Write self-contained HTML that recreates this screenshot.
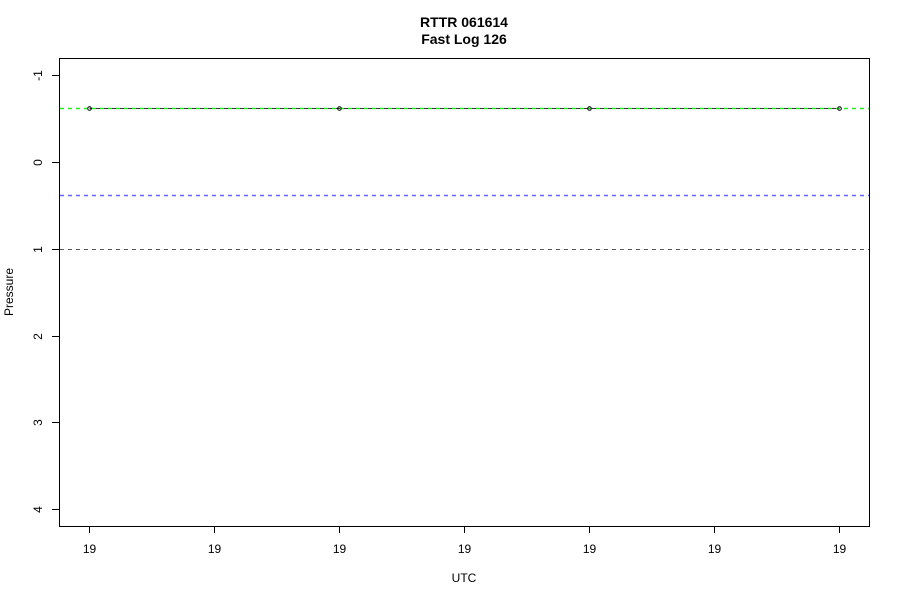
<!DOCTYPE html>
<html><head><meta charset="utf-8"><style>
body{margin:0;background:#fff;}
svg text{font-family:"Liberation Sans",Arial,sans-serif;}
</style></head><body>
<svg id="chart" width="900" height="600" xmlns="http://www.w3.org/2000/svg">
<rect width="900" height="600" fill="#fff"/>
<text x="464" y="27" text-anchor="middle" font-size="14" font-weight="bold">RTTR 061614</text>
<text x="464" y="44" text-anchor="middle" font-size="14" font-weight="bold">Fast Log 126</text>
<text x="464" y="582" text-anchor="middle" font-size="12">UTC</text>
<text transform="translate(13,292) rotate(-90)" text-anchor="middle" font-size="12">Pressure</text>
<g id="plot"></g>
<rect x="59.5" y="58.5" width="810" height="468" fill="none" stroke="#000" stroke-width="1"/>
</svg>
<script>
const xIndex=[0,2,4,6];
const yValues=[-0.62,-0.62,-0.62,-0.62];
const xTickLabels=["19","19","19","19","19","19","19"];
const yTicks=[-1,0,1,2,3,4];
const refGreen=-0.62;
const refBlue=0.38;
const refGray=1.0;
const NS="http://www.w3.org/2000/svg";
const g=document.getElementById('plot');
function xs(i){return Math.round(89+i*125)+0.5;}
function ys(v){return Math.round(162+v*86.8)+0.5;}
function mk(t,a){const e=document.createElementNS(NS,t);for(const k in a)e.setAttribute(k,a[k]);g.appendChild(e);return e;}
xTickLabels.forEach((l,i)=>{
 const t=mk('line',{x1:xs(i),x2:xs(i),y1:526,y2:533,stroke:'#000'});
 
 
 const tx=mk('text',{x:xs(i),y:553,'text-anchor':'middle','font-size':12});tx.textContent=l;
 
 
});
yTicks.forEach(v=>{
 const t=mk('line',{x1:52,x2:59,y1:ys(v),y2:ys(v),stroke:'#000'});
 
 
 const tx=mk('text',{transform:`translate(42,${ys(v)}) rotate(-90)`,'text-anchor':'middle','font-size':12});tx.textContent=v;
 
 
});
function hline(v,c,n,w){const l=mk('line',{x1:60,x2:869,y1:ys(v),y2:ys(v),stroke:c,'stroke-dasharray':'4,4','stroke-width':w||1});
 
 }
hline(refBlue,'#6666ff','blue-reference-line',1.5);
hline(refGray,'#555','gray-reference-line');
const pts=xIndex.map((x,i)=>xs(x)+','+ys(yValues[i])).join(' ');
const pl=mk('polyline',{points:pts,fill:'none',stroke:'#333','stroke-width':1});


hline(refGreen,'#22ee22','green-reference-line',1.5);
xIndex.forEach((x,i)=>{const c=mk('circle',{cx:xs(x),cy:ys(yValues[i]),r:1.8,fill:'none',stroke:'#000','stroke-width':1});
 
 });
</script>
</body></html>
